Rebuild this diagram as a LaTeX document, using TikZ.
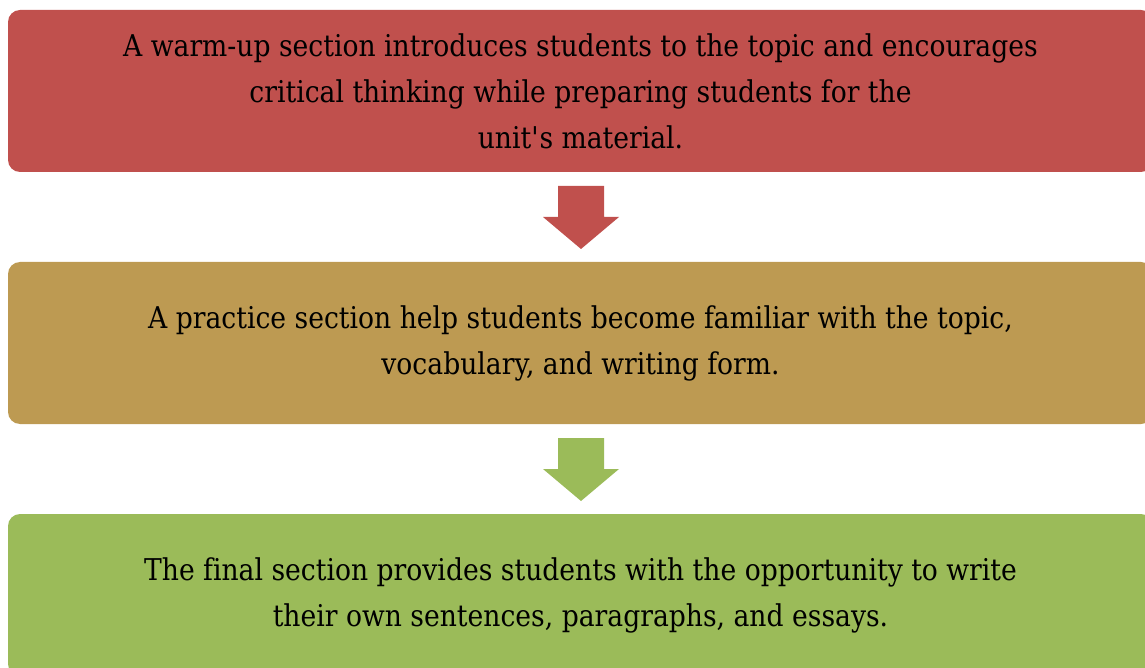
\documentclass[tikz,border=0pt]{standalone}
\usepackage{fontspec}
\setmainfont[FakeStretch=0.887,Ligatures=NoCommon]{DejaVu Serif}
\definecolor{cred}{HTML}{C0504D}
\definecolor{cgold}{HTML}{BD9A52}
\definecolor{cgreen}{HTML}{9BBB59}
\begin{document}
\begin{tikzpicture}[x=1pt,y=-1pt,
  box/.style={rectangle, rounded corners=12pt, minimum width=1145pt, minimum height=162pt, inner sep=0pt, align=center, text=black, font={\fontsize{30}{46}\selectfont}}]
\useasboundingbox (0,0) rectangle (1145,668);
\node[box, fill=cred] (b1) at (580.5,91) {A warm-up section introduces students to the topic and encourages\\critical thinking while preparing students for the\\unit\textquotesingle s material.};
\node[box, fill=cgold] (b2) at (580.5,343) {A practice section help students become familiar with the topic,\\vocabulary, and writing form.};
\node[box, fill=cgreen] (b3) at (580.5,595) {The final section provides students with the opportunity to write\\their own sentences, paragraphs, and essays.};
\fill[cred] (558,186) -- (604,186) -- (604,217) -- (619,217) -- (581,249) -- (543,217) -- (558,217) -- cycle;
\fill[cgreen] (558,438) -- (604,438) -- (604,469) -- (619,469) -- (581,501) -- (543,469) -- (558,469) -- cycle;
\end{tikzpicture}
\end{document}
